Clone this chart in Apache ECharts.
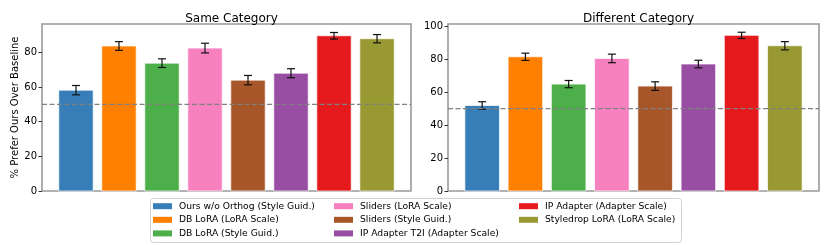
<!DOCTYPE html>
<html>
<head>
<meta charset="utf-8">
<script src="https://cdn.jsdelivr.net/npm/echarts@6/dist/echarts.min.js"></script>
<style>html,body{margin:0;padding:0;background:#fff}#c{width:830px;height:245px}</style>
</head>
<body>
<div id="c"></div>
<script>
const methods = [
  'Ours w/o Orthog (Style Guid.)',
  'DB LoRA (LoRA Scale)',
  'DB LoRA (Style Guid.)',
  'Sliders (LoRA Scale)',
  'Sliders (Style Guid.)',
  'IP Adapter T2I (Adapter Scale)',
  'IP Adapter (Adapter Scale)',
  'Styledrop LoRA (LoRA Scale)'
];
const colors = ['#377eb8','#ff7f00','#4daf4a','#f781bf','#a65628','#984ea3','#e41a1c','#999933'];
const sameValues = [58.2, 83.7, 73.8, 82.5, 64.0, 68.0, 89.6, 87.9];
const sameErrors = [2.7, 2.5, 2.5, 2.8, 2.7, 2.6, 1.9, 2.4];
const diffValues = [51.9, 81.5, 64.9, 80.5, 63.7, 77.1, 94.5, 88.2];
const diffErrors = [2.3, 2.2, 2.2, 2.6, 2.6, 2.3, 1.9, 2.5];
const panelTitles = ['Same Category', 'Different Category'];
const yTicks = [0, 20, 40, 60, 80, 100];
const baseline = 50;

const FONT = 'DejaVu Sans';
const chart = echarts.init(document.getElementById('c'), null, {renderer: 'canvas'});

function renderBar(params, api) {
  const x = api.value(0), v = api.value(1), e = api.value(2);
  const p0 = api.coord([x - 0.4, v]);
  const p1 = api.coord([x + 0.4, 0]);
  const top = api.coord([x, v + e]);
  const bot = api.coord([x, v - e]);
  const cap = 4;
  const color = api.visual('color');
  return {
    type: 'group',
    children: [
      {type: 'rect', shape: {x: p0[0], y: p0[1], width: p1[0] - p0[0], height: p1[1] - p0[1]},
       style: {fill: color, stroke: 'rgba(255,255,255,0.7)', lineWidth: 1}},
      {type: 'line', shape: {x1: top[0], y1: top[1], x2: bot[0], y2: bot[1]}, style: {stroke: '#111', lineWidth: 1.2}},
      {type: 'line', shape: {x1: top[0] - cap, y1: top[1], x2: top[0] + cap, y2: top[1]}, style: {stroke: '#111', lineWidth: 1.2}},
      {type: 'line', shape: {x1: bot[0] - cap, y1: bot[1], x2: bot[0] + cap, y2: bot[1]}, style: {stroke: '#111', lineWidth: 1.2}}
    ]
  };
}

const grids = [
  {left: 42, top: 24, width: 369, height: 167, show: true, borderColor: '#999', borderWidth: 1.6, backgroundColor: 'transparent'},
  {left: 448, top: 24, width: 371, height: 167, show: true, borderColor: '#999', borderWidth: 1.6, backgroundColor: 'transparent'}
];
const yMax = [96.4, 101.4];
const xAxes = [0,1].map(i => ({
  type: 'value', gridIndex: i, min: -0.79, max: 7.79,
  axisLine: {show: false, onZero: false}, axisTick: {show: false}, axisLabel: {show: false}, splitLine: {show: false}
}));
const yAxes = [0,1].map(i => {
  const ticks = yTicks.filter(t => t <= yMax[i]);
  return {
    type: 'value', gridIndex: i, min: 0, max: yMax[i], position: 'left',
    axisLine: {show: false, onZero: false},
    splitLine: {show: false},
    axisTick: {show: true, length: 3.5, lineStyle: {color: '#333', width: 1}, customValues: ticks},
    axisLabel: {color: '#000', fontFamily: FONT, fontSize: 10, margin: 5, customValues: ticks},
    name: i === 0 ? '% Prefer Ours Over Baseline' : '',
    nameLocation: 'middle', nameGap: 19,
    nameTextStyle: {color: '#000', fontFamily: FONT, fontSize: 10}
  };
});

const series = [];
[[sameValues, sameErrors], [diffValues, diffErrors]].forEach((pair, g) => {
  methods.forEach((m, i) => {
    series.push({
      type: 'custom', name: m, xAxisIndex: g, yAxisIndex: g,
      itemStyle: {color: colors[i]},
      renderItem: renderBar,
      encode: {x: 0, y: 1},
      data: [[i, pair[0][i], pair[1][i]]],
      z: 2
    });
  });
  series.push({
    type: 'line', xAxisIndex: g, yAxisIndex: g, silent: true, symbol: 'none',
    data: [[-0.79, baseline], [7.79, baseline]],
    lineStyle: {color: '#808080', width: 1.2, type: [5, 2.5]}, z: 3
  });
});

function legendCol(names, left) {
  return {
    orient: 'vertical', left: left, top: 199.4, padding: 0, itemGap: 0,
    itemWidth: 19, itemHeight: 6, icon: 'rect',
    data: names,
    textStyle: {color: '#000', fontFamily: FONT, fontSize: 9.2, lineHeight: 13.6, padding: [0,0,0,2]},
    selectedMode: false
  };
}

chart.setOption({
  animation: false,
  textStyle: {fontFamily: FONT},
  title: [
    {text: panelTitles[0], left: 42 + 369/2, top: 8, textAlign: 'center', textStyle: {fontFamily: FONT, fontSize: 12, fontWeight: 'normal', color: '#000'}},
    {text: panelTitles[1], left: 448 + 371/2, top: 8, textAlign: 'center', textStyle: {fontFamily: FONT, fontSize: 12, fontWeight: 'normal', color: '#000'}}
  ],
  grid: grids,
  xAxis: xAxes,
  yAxis: yAxes,
  legend: [
    legendCol(methods.slice(0,3), 153),
    legendCol(methods.slice(3,6), 334),
    legendCol(methods.slice(6,8), 519)
  ],
  graphic: [{
    type: 'rect', left: 150, top: 198, z: -1,
    shape: {width: 531, height: 44, r: 3},
    style: {fill: 'rgba(255,255,255,0.8)', stroke: '#d0d0d0', lineWidth: 1}
  }],
  series: series
});
</script>
</body>
</html>
